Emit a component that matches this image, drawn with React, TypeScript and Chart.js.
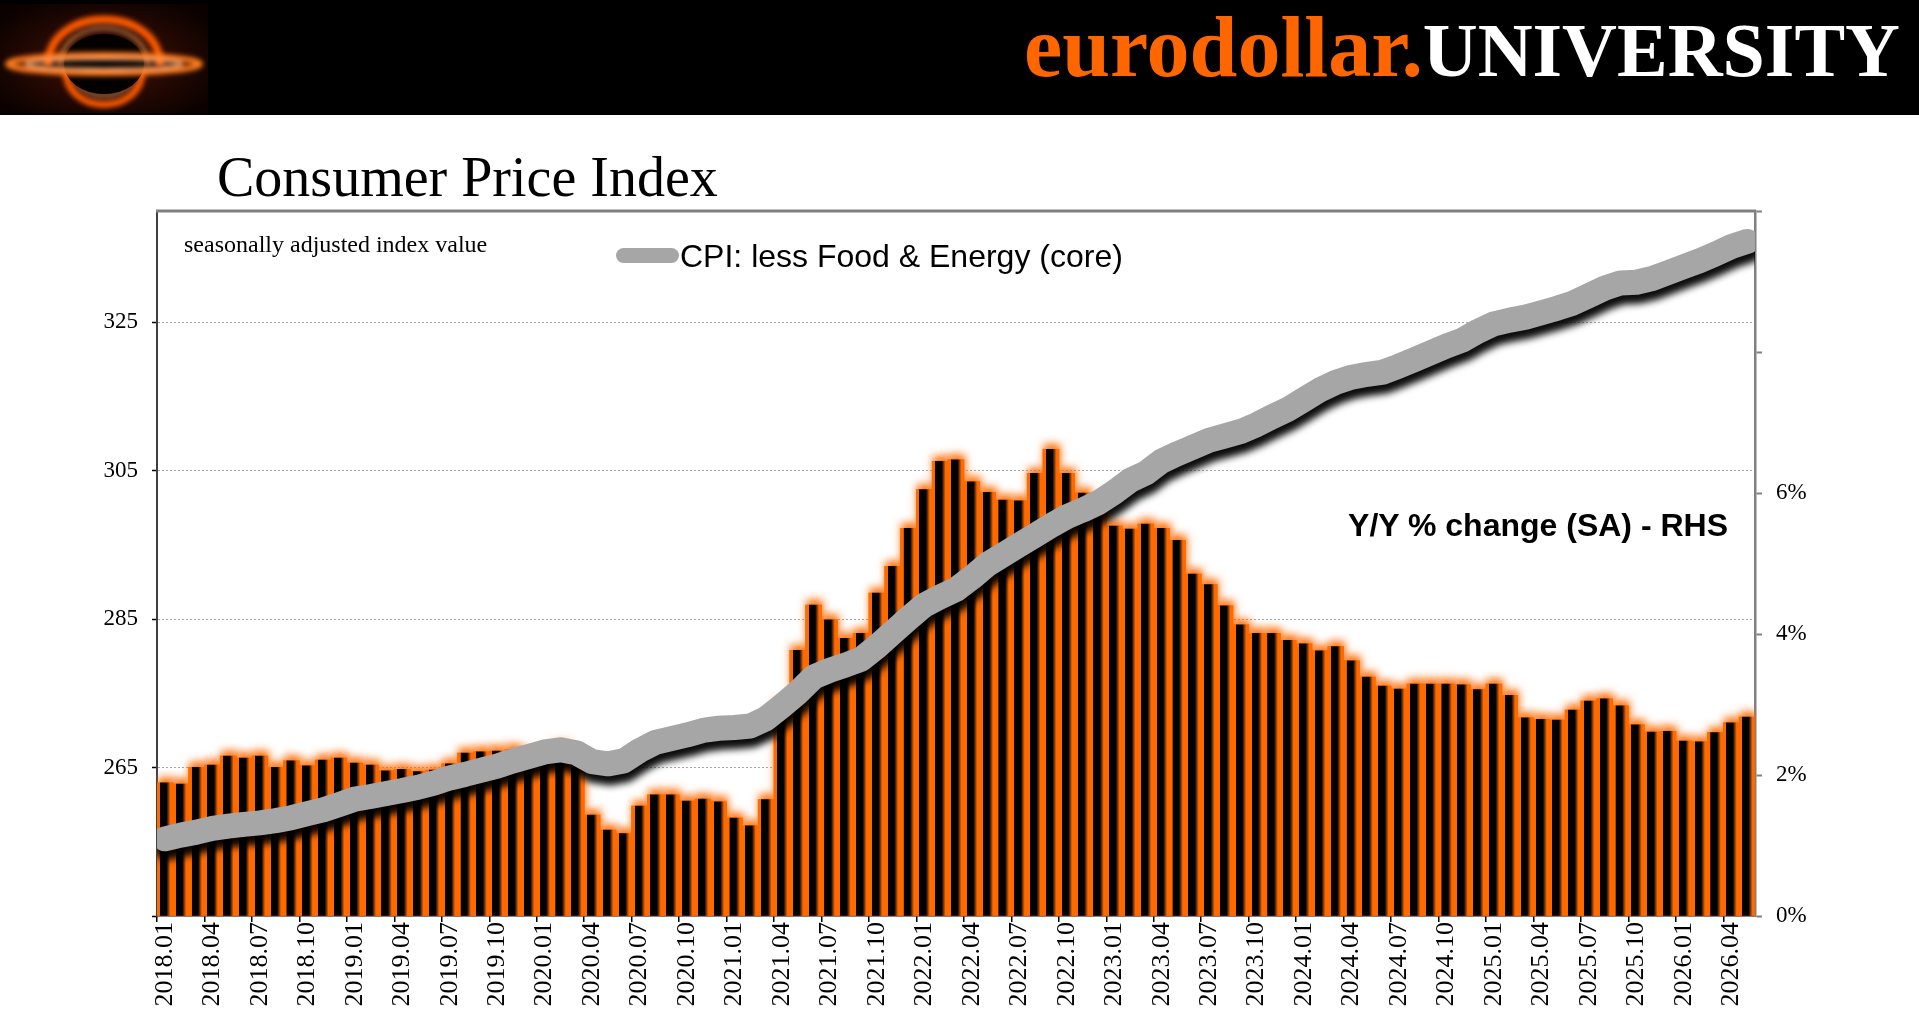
import React, { useEffect, useRef } from 'react';
import { Chart, registerables } from 'chart.js';

Chart.register(...registerables);

// ---------- data ----------
const MONTHS = [
  '2018.01', '2018.02', '2018.03', '2018.04', '2018.05', '2018.06', '2018.07', '2018.08', '2018.09', '2018.10', '2018.11', '2018.12',
  '2019.01', '2019.02', '2019.03', '2019.04', '2019.05', '2019.06', '2019.07', '2019.08', '2019.09', '2019.10', '2019.11', '2019.12',
  '2020.01', '2020.02', '2020.03', '2020.04', '2020.05', '2020.06', '2020.07', '2020.08', '2020.09', '2020.10', '2020.11', '2020.12',
  '2021.01', '2021.02', '2021.03', '2021.04', '2021.05', '2021.06', '2021.07', '2021.08', '2021.09', '2021.10', '2021.11', '2021.12',
  '2022.01', '2022.02', '2022.03', '2022.04', '2022.05', '2022.06', '2022.07', '2022.08', '2022.09', '2022.10', '2022.11', '2022.12',
  '2023.01', '2023.02', '2023.03', '2023.04', '2023.05', '2023.06', '2023.07', '2023.08', '2023.09', '2023.10', '2023.11', '2023.12',
  '2024.01', '2024.02', '2024.03', '2024.04', '2024.05', '2024.06', '2024.07', '2024.08', '2024.09', '2024.10', '2024.11', '2024.12',
  '2025.01', '2025.02', '2025.03', '2025.04', '2025.05', '2025.06', '2025.07', '2025.08', '2025.09', '2025.10', '2025.11', '2025.12',
  '2026.01', '2026.02', '2026.03', '2026.04', '2026.05',
];

// CPI less food & energy, seasonally adjusted index (LHS)
const CORE_CPI = [
  255.4, 255.9, 256.3, 256.8, 257.1, 257.35, 257.55, 257.85, 258.25, 258.8, 259.3, 260.0,
  260.75, 261.1, 261.5, 261.9, 262.35, 262.9, 263.6, 264.1, 264.65, 265.2, 265.9, 266.5,
  267.1, 267.4, 267.0, 265.8, 265.5, 265.9, 267.3, 268.4, 268.9, 269.4, 270.0, 270.3,
  270.4, 270.6, 271.6, 273.3, 275.1, 277.2, 278.1, 278.8, 279.6, 281.3, 283.2, 285.1,
  286.9, 288.0, 289.0, 290.6, 292.4, 293.7, 295.0, 296.3, 297.6, 298.8, 299.7, 300.7,
  302.1, 303.7, 304.7, 306.3, 307.3, 308.2, 309.1, 309.7, 310.3, 311.2, 312.3, 313.3,
  314.6, 315.9, 316.9, 317.6, 318.0, 318.3, 319.1, 320.0, 320.9, 321.8, 322.6, 323.8,
  324.8, 325.3, 325.7, 326.3, 326.9, 327.6, 328.6, 329.6, 330.3, 330.4, 330.9, 331.7,
  332.5, 333.3, 334.2, 335.2, 335.9,
];

// Y/Y % change (SA) (RHS)
const CORE_YOY = [
  1.89, 1.87, 2.11, 2.14, 2.27, 2.24, 2.27, 2.11, 2.20, 2.13, 2.21, 2.24,
  2.17, 2.14, 2.06, 2.08, 2.05, 2.07, 2.16, 2.31, 2.33, 2.34, 2.36, 2.30,
  2.30, 2.40, 2.10, 1.43, 1.22, 1.17, 1.56, 1.72, 1.72, 1.63, 1.66, 1.62,
  1.39, 1.28, 1.65, 3.00, 3.77, 4.41, 4.20, 3.94, 4.01, 4.58, 4.96, 5.50,
  6.05, 6.45, 6.47, 6.16, 6.01, 5.90, 5.89, 6.28, 6.62, 6.28, 6.00, 5.70,
  5.53, 5.49, 5.56, 5.50, 5.33, 4.85, 4.70, 4.40, 4.13, 4.01, 4.01, 3.91,
  3.86, 3.76, 3.82, 3.62, 3.39, 3.26, 3.22, 3.29, 3.29, 3.29, 3.28, 3.21,
  3.29, 3.13, 2.81, 2.79, 2.78, 2.92, 3.05, 3.08, 2.98, 2.71, 2.61, 2.62,
  2.48, 2.47, 2.60, 2.74, 2.82,
];

const LEFT_TICKS = [245, 265, 285, 305, 325];
const LEFT_LABELLED = [265, 285, 305, 325];
const RIGHT_TICKS = [0, 2, 4, 6, 8, 10];
const RIGHT_LABELLED = [0, 2, 4, 6];
const X_LABEL_EVERY = 3;

// ---------- style ----------
const ORANGE = '#ff6a00';
const LINE_GRAY = '#a6a6a6';
const SERIF = '"Liberation Serif", "Times New Roman", serif';
const SANS = '"Liberation Sans", Arial, sans-serif';

const W = 1919;
const H = 1022;
const AREA = { left: 157, top: 211, right: 1755, bottom: 916 };

const barFill = (c: any) => {
  const chart = c.chart;
  const xs = chart.scales && chart.scales.x;
  if (!chart.chartArea || !xs || c.dataIndex === undefined) return '#000';
  const cx = xs.getPixelForValue(c.dataIndex);
  const w = (chart.chartArea.right - chart.chartArea.left) / MONTHS.length;
  const g = chart.ctx.createLinearGradient(cx - w / 2, 0, cx + w / 2, 0);
  g.addColorStop(0, ORANGE);
  g.addColorStop(0.18, ORANGE);
  g.addColorStop(0.19, '#000');
  g.addColorStop(0.6, '#000');
  g.addColorStop(0.84, ORANGE);
  g.addColorStop(1, ORANGE);
  return g;
};

const effects = {
  id: 'effects',
  beforeDatasetDraw(chart: any, args: any) {
    const ds = chart.data.datasets[args.index];
    if (!ds.fx) return;
    const ctx = chart.ctx;
    ctx.save();
    ctx.shadowColor = ds.fx.color;
    ctx.shadowBlur = ds.fx.blur;
    ctx.shadowOffsetX = ds.fx.dx;
    ctx.shadowOffsetY = ds.fx.dy;
  },
  afterDatasetDraw(chart: any, args: any) {
    const ds = chart.data.datasets[args.index];
    if (!ds.fx) return;
    chart.ctx.restore();
  },
  afterDraw(chart: any) {
    const { ctx, chartArea } = chart;
    ctx.save();
    ctx.strokeStyle = '#808080';
    ctx.lineWidth = 3;
    ctx.beginPath();
    ctx.moveTo(chartArea.left - 1, chartArea.top);
    ctx.lineTo(chartArea.right + 1, chartArea.top);
    ctx.stroke();
    ctx.restore();
  },
};

export default function App() {
  const ref = useRef<HTMLCanvasElement>(null);

  useEffect(() => {
    document.body.style.margin = '0';
    document.body.style.overflow = 'hidden';
    const canvas = ref.current;
    if (!canvas) return;
    const chart = new Chart(canvas, {
      type: 'bar',
      data: {
        labels: MONTHS,
        datasets: [
          {
            type: 'line',
            label: 'CPI: less Food & Energy (core)',
            data: CORE_CPI,
            yAxisID: 'y',
            borderColor: LINE_GRAY,
            backgroundColor: LINE_GRAY,
            borderWidth: 25,
            pointRadius: 0,
            tension: 0,
            borderJoinStyle: 'round',
            borderCapStyle: 'round',
            clip: 0,
            order: 0,
            fx: { color: 'rgba(0,0,0,0.95)', blur: 7, dx: 2, dy: 9 },
          } as any,
          {
            type: 'bar',
            label: 'Y/Y % change (SA) - RHS',
            data: CORE_YOY,
            yAxisID: 'y2',
            backgroundColor: barFill,
            borderWidth: 0,
            barPercentage: 1,
            categoryPercentage: 1,
            grouped: false,
            order: 1,
          } as any,
          {
            type: 'bar',
            label: 'glow',
            data: CORE_YOY,
            yAxisID: 'y2',
            backgroundColor: ORANGE,
            borderWidth: 0,
            barPercentage: 1,
            categoryPercentage: 1,
            grouped: false,
            order: 2,
            fx: { color: ORANGE, blur: 8, dx: 1, dy: -5 },
          } as any,
        ],
      },
      options: {
        responsive: false,
        animation: false,
        events: [],
        layout: { padding: { top: AREA.top, left: 0, right: 0, bottom: 0 } },
        plugins: { legend: { display: false }, tooltip: { enabled: false } },
        scales: {
          x: {
            type: 'category',
            offset: true,
            grid: {
              offset: true,
              drawOnChartArea: false,
              drawTicks: true,
              tickLength: 6,
              lineWidth: 1.5,
              tickWidth: 1.5,
              color: (c: any) => (c.index % X_LABEL_EVERY === 0 ? '#000' : 'rgba(0,0,0,0)'),
              tickColor: (c: any) => (c.index % X_LABEL_EVERY === 0 ? '#000' : 'rgba(0,0,0,0)'),
            },
            border: { color: '#000', width: 1.5 },
            ticks: {
              autoSkip: false,
              maxRotation: 90,
              minRotation: 90,
              padding: 0,
              color: '#000',
              font: { family: SERIF, size: 26 },
              callback: (_v: any, i: number) => (i % X_LABEL_EVERY === 0 ? MONTHS[i] : ''),
            },
            afterFit: (s: any) => {
              s.height = H - AREA.bottom;
            },
          },
          y: {
            position: 'left',
            min: 245,
            max: 340,
            afterBuildTicks: (s: any) => {
              s.ticks = LEFT_TICKS.map((v) => ({ value: v }));
            },
            grid: {
              drawOnChartArea: true,
              drawTicks: true,
              tickLength: 5,
              color: (c: any) => (c.tick && c.tick.value === 245 ? 'rgba(0,0,0,0)' : '#a8a8a8'),
              lineWidth: 1,
              tickColor: '#000',
              tickWidth: 1.5,
            },
            border: { color: '#404040', width: 2, dash: [2, 2] },
            ticks: {
              padding: 14,
              color: '#000',
              font: { family: SERIF, size: 23 },
              callback: (v: any) => (LEFT_LABELLED.includes(Number(v)) ? String(v) : ''),
            },
            afterFit: (s: any) => {
              s.width = AREA.left;
            },
          },
          y2: {
            position: 'right',
            min: 0,
            max: 10,
            afterBuildTicks: (s: any) => {
              s.ticks = RIGHT_TICKS.map((v) => ({ value: v }));
            },
            grid: {
              drawOnChartArea: false,
              drawTicks: true,
              tickLength: 7,
              tickColor: '#808080',
              tickWidth: 2,
            },
            border: { color: '#808080', width: 2.5 },
            ticks: {
              padding: 14,
              color: '#000',
              font: { family: SERIF, size: 23 },
              callback: (v: any) => (RIGHT_LABELLED.includes(Number(v)) ? `${v}%` : ''),
            },
            afterFit: (s: any) => {
              s.width = W - AREA.right;
            },
          },
        },
      } as any,
      plugins: [effects],
    });
    return () => chart.destroy();
  }, []);

  return (
    <div style={{ position: 'absolute', left: 0, top: 0, width: W, height: H, background: '#fff', overflow: 'hidden' }}>
      <canvas ref={ref} width={W} height={H} style={{ position: 'absolute', left: 0, top: 0, width: W, height: H }} />
      {/* header band */}
      <div style={{ position: 'absolute', left: 0, top: 0, width: W, height: 115, background: '#000' }} />
      <svg width={208} height={109} style={{ position: 'absolute', left: 0, top: 4 }}>
        <defs>
          <radialGradient id="logoBg" cx="50%" cy="52%" r="62%">
            <stop offset="0%" stopColor="#5c1c06" />
            <stop offset="45%" stopColor="#2c0a03" />
            <stop offset="100%" stopColor="#0b0200" />
          </radialGradient>
          <filter id="logoGlow" x="-30%" y="-60%" width="160%" height="220%">
            <feGaussianBlur stdDeviation="2.4" />
          </filter>
        </defs>
        <rect width={208} height={109} fill="url(#logoBg)" />
        <g fill="none" filter="url(#logoGlow)">
          <path d="M 48 62 C 48 0, 160 0, 160 62" stroke="#ff5a00" strokeWidth={8} />
          <path d="M 60 62 C 60 12, 148 12, 148 62" stroke="#ffb060" strokeWidth={2} />
          <path d="M 66 66 C 66 112, 142 112, 142 66" stroke="#ff5a00" strokeWidth={7} />
          <path d="M 74 66 C 74 100, 134 100, 134 66" stroke="#ffb060" strokeWidth={2} />
        </g>
        <ellipse cx={104} cy={60} rx={40} ry={30} fill="#050000" />
        <g fill="none" filter="url(#logoGlow)">
          <ellipse cx={104} cy={60} rx={96} ry={9} stroke="#ff7a1a" strokeWidth={6} />
          <ellipse cx={104} cy={60} rx={78} ry={5} stroke="#ffc080" strokeWidth={2} />
        </g>
      </svg>
      <div
        style={{
          position: 'absolute',
          right: 19,
          top: 0,
          height: 115,
          fontFamily: SERIF,
          fontWeight: 700,
          whiteSpace: 'nowrap',
        }}
      >
        <span
          style={{
            position: 'absolute',
            right: 477,
            top: 76 - Math.round(86 * 0.8375),
            fontSize: 86,
            lineHeight: '86px',
            color: '#ff6600',
          }}
        >
          eurodollar.
        </span>
        <span
          style={{
            position: 'absolute',
            right: 0,
            top: 76 - Math.round(76 * 0.8375),
            fontSize: 76,
            lineHeight: '76px',
            color: '#fff',
          }}
        >
          UNIVERSITY
        </span>
      </div>
      {/* title */}
      <div
        style={{
          position: 'absolute',
          left: 217,
          top: 149,
          fontFamily: SERIF,
          fontSize: 56,
          lineHeight: '56px',
          color: '#000',
          whiteSpace: 'nowrap',
        }}
      >
        Consumer Price Index
      </div>
      {/* chart annotations */}
      <div
        style={{
          position: 'absolute',
          left: 184,
          top: 232,
          fontFamily: SERIF,
          fontSize: 24,
          lineHeight: '24px',
          color: '#000',
          whiteSpace: 'nowrap',
        }}
      >
        seasonally adjusted index value
      </div>
      <div
        style={{
          position: 'absolute',
          left: 616,
          top: 248,
          width: 63,
          height: 15,
          borderRadius: 7.5,
          background: LINE_GRAY,
        }}
      />
      <div
        style={{
          position: 'absolute',
          left: 680,
          top: 240,
          fontFamily: SANS,
          fontSize: 32,
          lineHeight: '32px',
          color: '#000',
          whiteSpace: 'nowrap',
        }}
      >
        CPI: less Food &amp; Energy (core)
      </div>
      <div
        style={{
          position: 'absolute',
          right: W - 1728,
          top: 509,
          fontFamily: SANS,
          fontWeight: 700,
          fontSize: 32,
          lineHeight: '32px',
          color: '#000',
          whiteSpace: 'nowrap',
        }}
      >
        Y/Y % change (SA) - RHS
      </div>
    </div>
  );
}
